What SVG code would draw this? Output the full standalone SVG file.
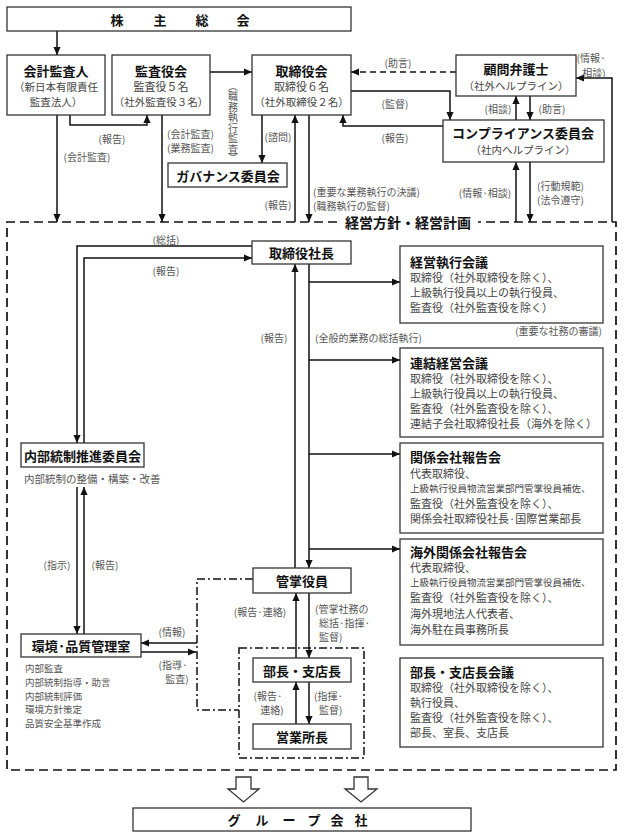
<svg xmlns="http://www.w3.org/2000/svg" width="629" height="840" viewBox="0 0 629 840">
<style>
.box{fill:#fff;stroke:#333;stroke-width:1.3}
text{font-family:"Noto Sans CJK JP","Noto Sans",sans-serif;dominant-baseline:central}
.h{font-size:13px;font-weight:bold;fill:#111;text-anchor:middle}
.hl{font-size:13px;font-weight:bold;fill:#111}
.s{font-size:10.5px;fill:#444;text-anchor:middle}
.b{font-size:11px;fill:#444}
.sm{font-size:9.5px;fill:#444}
.l{font-size:10px;fill:#555;text-anchor:middle}
.ls{font-size:10px;fill:#555}
.g{font-size:10px;fill:#555}
.c{fill:none;stroke:#111;stroke-width:1.5}
.d{stroke-dasharray:6 4}
.dd{stroke-dasharray:8 3 2 3}
.big{fill:none;stroke:#111;stroke-width:1.7;stroke-dasharray:9 5}
.hollow{fill:#fff;stroke:#333;stroke-width:1.3}
</style>
<defs>
<marker id="ah" viewBox="0 0 10 10" refX="10" refY="5" markerWidth="8" markerHeight="8" markerUnits="userSpaceOnUse" orient="auto"><path d="M0,0.5 L10,5 L0,9.5z" fill="#111"/></marker>
</defs>
<rect width="629" height="840" fill="#fff"/>

<g id="management-area">
<path class="big" d="M337,222 H7 V770 H616 V222 H478"/>
<text class="h" x="408" y="222" style="font-size:14px">経営方針・経営計画</text>
</g>

<g id="connectors">
<path class="c" d="M57,31 V55" marker-end="url(#ah)"/>
<path class="c" d="M210,72 H252" marker-end="url(#ah)"/>
<path class="c d" d="M456,72 H351" marker-end="url(#ah)"/>
<path class="c" d="M351,91 H450 V120" marker-end="url(#ah)"/>
<path class="c" d="M443,126 H343 V115" marker-end="url(#ah)"/>
<path class="c" d="M612,222 V78 H576" marker-end="url(#ah)"/>
<path class="c" d="M516,120 V96" marker-end="url(#ah)"/>
<path class="c" d="M530,96 V120" marker-end="url(#ah)"/>
<path class="c" d="M516,222 V162" marker-end="url(#ah)"/>
<path class="c" d="M530,162 V222" marker-end="url(#ah)"/>
<path class="c" d="M262,115 V163" marker-end="url(#ah)"/>
<path class="c" d="M295,222 V115" marker-end="url(#ah)"/>
<path class="c" d="M309,115 V222" marker-end="url(#ah)"/>
<path class="c" d="M57,115 V222" marker-end="url(#ah)"/>
<path class="c" d="M70,115 V125 H147 V115" marker-end="url(#ah)"/>
<path class="c" d="M162,115 V222" marker-end="url(#ah)"/>
<path class="c" d="M252,246 H77 V443" marker-end="url(#ah)"/>
<path class="c" d="M84,443 V258 H252" marker-end="url(#ah)"/>
<path class="c" d="M295,568 V264" marker-end="url(#ah)"/>
<path class="c" d="M309,264 V568" marker-end="url(#ah)"/>
<path class="c" d="M309,282 H400" marker-end="url(#ah)"/>
<path class="c" d="M309,360 H400" marker-end="url(#ah)"/>
<path class="c" d="M309,454 H400" marker-end="url(#ah)"/>
<path class="c" d="M309,549 H400" marker-end="url(#ah)"/>
<path class="c" d="M77,487 V634" marker-end="url(#ah)"/>
<path class="c" d="M84,634 V487" marker-end="url(#ah)"/>
<path class="c" d="M197,643 H141" marker-end="url(#ah)"/>
<path class="c" d="M141,652 H196" marker-end="url(#ah)"/>
<path class="c dd" d="M253,579 H197 V710 H239"/>
<rect class="c dd" x="239" y="648" width="125" height="110"/>
<path class="c" d="M296,658 V593" marker-end="url(#ah)"/>
<path class="c" d="M309,593 V658" marker-end="url(#ah)"/>
<path class="c" d="M296,724 V682" marker-end="url(#ah)"/>
<path class="c" d="M309,682 V724" marker-end="url(#ah)"/>
<polygon class="hollow" points="236,777 251,777 251,789 259,789 243.5,802 228,789 236,789"/>
<polygon class="hollow" points="354,777 368,777 368,789 377,789 361,802 345,789 354,789"/>

<text class="l" x="112" y="138">(報告)</text>
<text class="l" x="87" y="156">(会計監査)</text>
<text class="ls" x="167" y="133">(会計監査)</text>
<text class="ls" x="167" y="147">(業務監査)</text>
<text class="l" x="233 233 233 233 233 233 233 233" y="85 95.5 106 116.5 127 137.5 148 157">︵職務執行監査︶</text>
<text class="l" x="278" y="136">(諮問)</text>
<text class="l" x="278" y="204">(報告)</text>
<text class="ls" x="313" y="191">(重要な業務執行の決議)</text>
<text class="ls" x="313" y="205">(職務執行の監督)</text>
<text class="l" x="398" y="62">(助言)</text>
<text class="l" x="395" y="103">(監督)</text>
<text class="l" x="395" y="137">(報告)</text>
<text class="l" x="498" y="108">(相談)</text>
<text class="l" x="552" y="108">(助言)</text>
<text class="l" x="591" y="57">(情報·</text>
<text class="l" x="594" y="72">相談)</text>
<text class="l" x="485" y="192">(情報·相談)</text>
<text class="ls" x="537" y="185">(行動規範)</text>
<text class="ls" x="537" y="199">(法令遵守)</text>
<text class="l" x="166" y="239">(総括)</text>
<text class="l" x="166" y="270">(報告)</text>
<text class="l" x="274" y="337">(報告)</text>
<text class="ls" x="315" y="337">(全般的業務の総括執行)</text>
<text class="ls" x="602" y="330" style="text-anchor:end">(重要な社務の審議)</text>
<text class="l" x="57" y="564">(指示)</text>
<text class="l" x="105" y="564">(報告)</text>
<text class="l" x="172" y="631">(情報)</text>
<text class="l" x="173" y="664">(指導·</text>
<text class="l" x="177" y="678">監査)</text>
<text class="l" x="260" y="611">(報告·連絡)</text>
<text class="ls" x="315" y="608">(管掌社務の</text>
<text class="ls" x="319" y="622">総括·指揮·</text>
<text class="ls" x="319" y="636">監督)</text>
<text class="l" x="268" y="695">(報告·</text>
<text class="l" x="272" y="709">連絡)</text>
<text class="ls" x="314" y="695">(指揮·</text>
<text class="ls" x="319" y="709">監督)</text>
</g>

<g id="shareholders">
<rect class="box" x="7" y="7" width="344" height="24"/>
<text class="h" x="117 160 202 243" y="19">株主総会</text>
</g>

<g id="auditor">
<rect class="box" x="7" y="55" width="98" height="60"/>
<text class="h" x="56" y="70">会計監査人</text>
<text class="s" x="56" y="86">（新日本有限責任</text>
<text class="s" x="56" y="101">監査法人）</text>
</g>

<g id="audit-board">
<rect class="box" x="112" y="55" width="98" height="60"/>
<text class="h" x="161" y="70">監査役会</text>
<text class="s" x="161" y="86" style="font-size:11px">監査役５名</text>
<text class="s" x="161" y="101">（社外監査役３名）</text>
</g>

<g id="board">
<rect class="box" x="252" y="55" width="99" height="60"/>
<text class="h" x="301.5" y="70">取締役会</text>
<text class="s" x="301.5" y="86" style="font-size:11px">取締役６名</text>
<text class="s" x="301.5" y="101">（社外取締役２名）</text>
</g>

<g id="lawyer">
<rect class="box" x="456" y="55" width="120" height="41"/>
<text class="h" x="516" y="68">顧問弁護士</text>
<text class="s" x="516" y="85">（社外ヘルプライン）</text>
</g>

<g id="compliance">
<rect class="box" x="443" y="120" width="161" height="42"/>
<text class="h" x="523" y="132">コンプライアンス委員会</text>
<text class="s" x="523" y="149">（社内ヘルプライン）</text>
</g>

<g id="governance">
<rect class="box" x="168" y="163" width="119" height="24"/>
<text class="h" x="228" y="175">ガバナンス委員会</text>
</g>

<g id="president">
<rect class="box" x="252" y="241" width="99" height="23"/>
<text class="h" x="301.5" y="252.5">取締役社長</text>
</g>

<g id="exec-meeting">
<rect class="box" x="400" y="246" width="203" height="77"/>
<text class="hl" x="410" y="261">経営執行会議</text>
<text class="b" x="410" y="277">取締役（社外取締役を除く）、</text>
<text class="b" x="410" y="292">上級執行役員以上の執行役員、</text>
<text class="b" x="410" y="307">監査役（社外監査役を除く）</text>
</g>

<g id="consolidated-meeting">
<rect class="box" x="400" y="348" width="203" height="89"/>
<text class="hl" x="410" y="362">連結経営会議</text>
<text class="b" x="410" y="378">取締役（社外取締役を除く）、</text>
<text class="b" x="410" y="393">上級執行役員以上の執行役員、</text>
<text class="b" x="410" y="408">監査役（社外監査役を除く）、</text>
<text class="b" x="410" y="423">連結子会社取締役社長（海外を除く）</text>
</g>

<g id="affiliate-meeting">
<rect class="box" x="400" y="443" width="203" height="90"/>
<text class="hl" x="410" y="456">関係会社報告会</text>
<text class="b" x="410" y="473">代表取締役、</text>
<text class="sm" x="410" y="488">上級執行役員物流営業部門管掌役員補佐、</text>
<text class="b" x="410" y="503">監査役（社外監査役を除く）、</text>
<text class="b" x="410" y="518">関係会社取締役社長·国際営業部長</text>
</g>

<g id="overseas-meeting">
<rect class="box" x="400" y="539" width="203" height="106"/>
<text class="hl" x="410" y="551">海外関係会社報告会</text>
<text class="b" x="410" y="567">代表取締役、</text>
<text class="sm" x="410" y="582">上級執行役員物流営業部門管掌役員補佐、</text>
<text class="b" x="410" y="597">監査役（社外監査役を除く）、</text>
<text class="b" x="410" y="613">海外現地法人代表者、</text>
<text class="b" x="410" y="629">海外駐在員事務所長</text>
</g>

<g id="branch-meeting">
<rect class="box" x="400" y="658" width="203" height="89"/>
<text class="hl" x="410" y="671">部長・支店長会議</text>
<text class="b" x="410" y="687">取締役（社外取締役を除く）、</text>
<text class="b" x="410" y="702">執行役員、</text>
<text class="b" x="410" y="717">監査役（社外監査役を除く）、</text>
<text class="b" x="410" y="732">部長、室長、支店長</text>
</g>

<g id="internal-control">
<rect class="box" x="21" y="443" width="123" height="24"/>
<text class="h" x="82.5" y="455">内部統制推進委員会</text>
<text class="g" x="24" y="478" style="font-size:10.5px">内部統制の整備・構築・改善</text>
</g>

<g id="quality-office">
<rect class="box" x="21" y="634" width="120" height="23"/>
<text class="h" x="81" y="645.5">環境·品質管理室</text>
<text class="g" x="25" y="668" style="font-size:9.5px">内部監査</text>
<text class="g" x="25" y="681.8" style="font-size:9.5px">内部統制指導・助言</text>
<text class="g" x="25" y="695.6" style="font-size:9.5px">内部統制評価</text>
<text class="g" x="25" y="709.4" style="font-size:9.5px">環境方針策定</text>
<text class="g" x="25" y="723.2" style="font-size:9.5px">品質安全基準作成</text>
</g>

<g id="officer">
<rect class="box" x="253" y="568" width="98" height="25"/>
<text class="h" x="302" y="580.5">管掌役員</text>
</g>

<g id="branch-manager">
<rect class="box" x="253" y="658" width="98" height="24"/>
<text class="h" x="302" y="670">部長・支店長</text>
</g>

<g id="office-manager">
<rect class="box" x="253" y="724" width="98" height="25"/>
<text class="h" x="302" y="736.5">営業所長</text>
</g>

<g id="group-companies">
<rect class="box" x="133" y="808" width="338" height="23"/>
<text class="h" x="234 262 289 314 337 361" y="819.5">グループ会社</text>
</g>
</svg>
